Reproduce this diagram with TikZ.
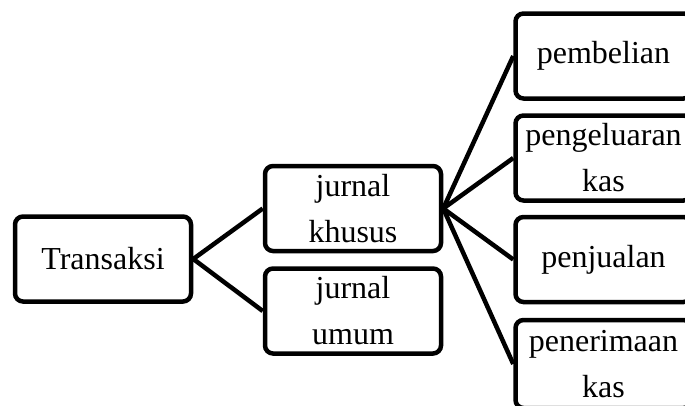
\documentclass[tikz,border=0pt]{standalone}
\usepackage{fontspec}
\setmainfont{Liberation Serif}
\begin{document}
\begin{tikzpicture}[x=1pt,y=-1pt,
  box/.style={draw=black,line width=4.5pt,rounded corners=8pt,fill=white,
    minimum width=176pt,minimum height=85pt,inner sep=0pt,align=center,
    font=\fontsize{32}{46}\selectfont},
  link/.style={draw=black,line width=4.5pt}]
\useasboundingbox (0,0) rectangle (685,405);
\clip (0,0) rectangle (685,405);
\node[box] (tr) at (103,259) {Transaksi};
\node[box] (jk) at (353,208.5) {jurnal\\khusus};
\node[box] (ju) at (353,311) {jurnal\\umum};
\node[box] (pb) at (603.5,56) {pembelian};
\node[box] (pk) at (603.5,158) {pengeluaran\\kas};
\node[box] (pj) at (603.5,259.5) {penjualan};
\node[box,minimum height=88pt] (pn) at (603.5,364) {penerimaan\\kas};
\draw[link] (tr.east) -- (jk.west);
\draw[link] (tr.east) -- (ju.west);
\draw[link] (jk.east) -- (pb.west);
\draw[link] (jk.east) -- (pk.west);
\draw[link] (jk.east) -- (pj.west);
\draw[link] (jk.east) -- (pn.west);
\end{tikzpicture}
\end{document}
